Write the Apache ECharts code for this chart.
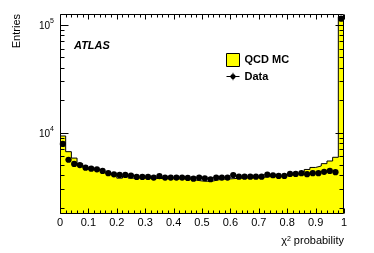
<!DOCTYPE html>
<html><head><meta charset="utf-8">
<script src="https://cdn.jsdelivr.net/npm/echarts@6/dist/echarts.min.js"></script>
<style>html,body{margin:0;padding:0;background:#fff}#c{width:374px;height:253px}</style>
</head><body><div id="c"></div>
<script>
// Histogram binning: 50 bins on [0, 1]
const xRange = [0, 1];
const nBins = 50;
// QCD MC (yellow histogram) entries per bin
const mcValues = [9300, 6650, 5800, 5150, 4750, 4550, 4450, 4300, 4150, 4050,
  3780, 3950, 3780, 3800, 3780, 3780, 3750, 3750, 3740, 3730,
  3720, 3720, 3700, 3620, 3560, 3530, 3560, 3650, 3700, 3720,
  3750, 3780, 3800, 3800, 3820, 3850, 3900, 3920, 3950, 3980,
  4050, 4150, 4300, 4550, 4750, 4900, 5150, 5450, 5900, 118000];
// Data points entries per bin
const dataValues = [7850, 5600, 5120, 5000, 4730, 4630, 4560, 4410, 4200, 4100,
  4050, 4050, 3990, 3880, 3880, 3880, 3830, 3950, 3830, 3830,
  3830, 3830, 3800, 3740, 3830, 3770, 3690, 3830, 3830, 3830,
  4040, 3900, 3900, 3900, 3900, 3900, 4080, 4020, 3960, 3960,
  4140, 4140, 4200, 4110, 4200, 4200, 4330, 4410, 4290, 113700];
const yRange = [1758, 125700];
const xTickLabels = ['0', '0.1', '0.2', '0.3', '0.4', '0.5', '0.6', '0.7', '0.8', '0.9', '1'];
const yMajorTicks = [10000, 100000];
const yMinorTicks = [2000, 3000, 4000, 5000, 6000, 7000, 8000, 9000,
  20000, 30000, 40000, 50000, 60000, 70000, 80000, 90000];
const seriesNames = ['QCD MC', 'Data'];

const FONT = '"Liberation Sans", Arial, Helvetica, sans-serif';
const binW = (xRange[1] - xRange[0]) / nBins;
const edges = [];
for (let i = 0; i <= nBins; i++) edges.push(+(xRange[0] + i * binW).toFixed(6));
const mcLine = edges.map((e, i) => [e, mcValues[Math.min(i, nBins - 1)]]);
const dataItems = dataValues.map((v, i) => [edges[i], edges[i + 1], v]);
const xMajorTicks = xTickLabels.map(Number);

const chart = echarts.init(document.getElementById('c'), null, {renderer: 'canvas'});
const yLabelFmt = v => {
  const e = Math.round(Math.log10(v));
  return yMajorTicks.some(t => Math.abs(t - v) / t < 1e-6) ? '{b|10}{s|' + e + '}' : '';
};
const xLabelFmt = v => { const k = Math.round(v * 10); return xTickLabels[k] !== undefined ? xTickLabels[k] : ''; };

chart.setOption({
  animation: false,
  backgroundColor: '#fff',
  grid: {left: 60, right: 30, top: 14, bottom: 39, containLabel: false},
  legend: {
    left: 226, top: 53, orient: 'vertical', padding: 0,
    itemWidth: 13, itemHeight: 13, itemGap: 4,
    selectedMode: false,
    textStyle: {fontFamily: FONT, fontSize: 11, fontWeight: 'bold', color: '#000'},
    data: [
      {name: seriesNames[0], icon: 'rect', itemStyle: {color: '#ffff00', borderColor: '#000', borderWidth: 1}},
      {name: seriesNames[1], icon: 'path://M0,3.5L14,3.5L14,4.5L0,4.5Z M6.5,0L7.5,0L7.5,8L6.5,8Z M7,1.2 C8.5,1.2 9.8,2.5 9.8,4 C9.8,5.5 8.5,6.8 7,6.8 C5.5,6.8 4.2,5.5 4.2,4 C4.2,2.5 5.5,1.2 7,1.2Z', itemStyle: {color: '#000'}}
    ]
  },
  xAxis: {
    type: 'value', min: xRange[0], max: xRange[1], interval: 0.1, position: 'bottom',
    axisLine: {show: false}, axisTick: {show: false}, splitLine: {show: false},
    axisLabel: {formatter: xLabelFmt, fontFamily: FONT, fontSize: 11, color: '#000', margin: 3}
  },
  yAxis: {
    type: 'log', logBase: 10, min: yRange[0], max: yRange[1], position: 'left',
    axisLine: {show: false}, axisTick: {show: false}, splitLine: {show: false},
    axisLabel: {formatter: yLabelFmt, margin: 6, color: '#000',
      rich: {b: {fontFamily: FONT, fontSize: 10, color: '#000', lineHeight: 14, verticalAlign: 'bottom'},
             s: {fontFamily: FONT, fontSize: 7, color: '#000', lineHeight: 8, verticalAlign: 'top'}}}
  },
  series: [{
    name: seriesNames[0], type: 'line', step: 'end', data: mcLine,
    symbol: 'none', lineStyle: {color: '#000', width: 1},
    itemStyle: {color: '#ffff00'},
    areaStyle: {color: '#ffff00', opacity: 1, origin: 'start'},
    z: 2
  }, {
    name: seriesNames[1], type: 'custom', data: dataItems,
    itemStyle: {color: '#000'},
    encode: {x: [0, 1], y: 2},
    renderItem: (params, api) => {
      const x0 = api.value(0), x1 = api.value(1), v = api.value(2);
      const p0 = api.coord([x0, v]), p1 = api.coord([x1, v]);
      const pc = api.coord([(x0 + x1) / 2, v]);
      return {type: 'group', children: [
        {type: 'line', shape: {x1: p0[0], y1: p0[1], x2: p1[0], y2: p1[1]}, style: {stroke: '#000', lineWidth: 1}},
        {type: 'circle', shape: {cx: pc[0], cy: pc[1], r: 3.1}, style: {fill: '#000'}}
      ]};
    },
    z: 4
  }]
});

// Frame and ticks placed through the chart's own scales
const P = (x, y) => chart.convertToPixel({xAxisIndex: 0, yAxisIndex: 0}, [x, y]);
const crisp = v => Math.round(v) + 0.5;
const lines = [];
const seg = (x1, y1, x2, y2) => lines.push({type: 'line', z: 100, silent: true,
  shape: {x1: x1, y1: y1, x2: x2, y2: y2}, style: {stroke: '#000', lineWidth: 1}});
const tl = P(xRange[0], yRange[1]), br = P(xRange[1], yRange[0]);
const L = crisp(tl[0]), T = crisp(tl[1]), R = crisp(br[0]) - 1, B = crisp(br[1]) - 1;
function yTick(v, len) {
  const y = crisp(P(xRange[0], v)[1]);
  seg(L, y, L + len, y); seg(R - len, y, R, y);
}
yMajorTicks.forEach(v => yTick(v, 8));
yMinorTicks.forEach(v => yTick(v, 4));
edges.forEach(x => {
  const major = xMajorTicks.some(m => Math.abs(m - x) < 1e-6);
  const len = major ? 5 : 3;
  const px = crisp(P(x, yRange[0])[0]);
  seg(px, B, px, B - len); seg(px, T, px, T + len);
});
lines.push({type: 'rect', z: 101, silent: true, shape: {x: L, y: T, width: R - L, height: B - T},
  style: {fill: null, stroke: '#000', lineWidth: 1}});

chart.setOption({graphic: [
  {type: 'text', x: 17, y: 14, rotation: Math.PI / 2,
   style: {text: 'Entries', font: '11px ' + FONT, fill: '#000', align: 'right', verticalAlign: 'middle'}},
  {type: 'text', x: 344, y: 241,
   style: {text: 'χ{s|2} probability', font: '11px ' + FONT, fill: '#000', align: 'right', verticalAlign: 'middle',
     rich: {s: {fontSize: 7, fontFamily: FONT, verticalAlign: 'top', lineHeight: 8}}}},
  {type: 'text', x: 74, y: 45.5,
   style: {text: 'ATLAS', font: 'italic bold 11px ' + FONT, fill: '#000', align: 'left', verticalAlign: 'middle'}}
].concat(lines)});
</script></body></html>
